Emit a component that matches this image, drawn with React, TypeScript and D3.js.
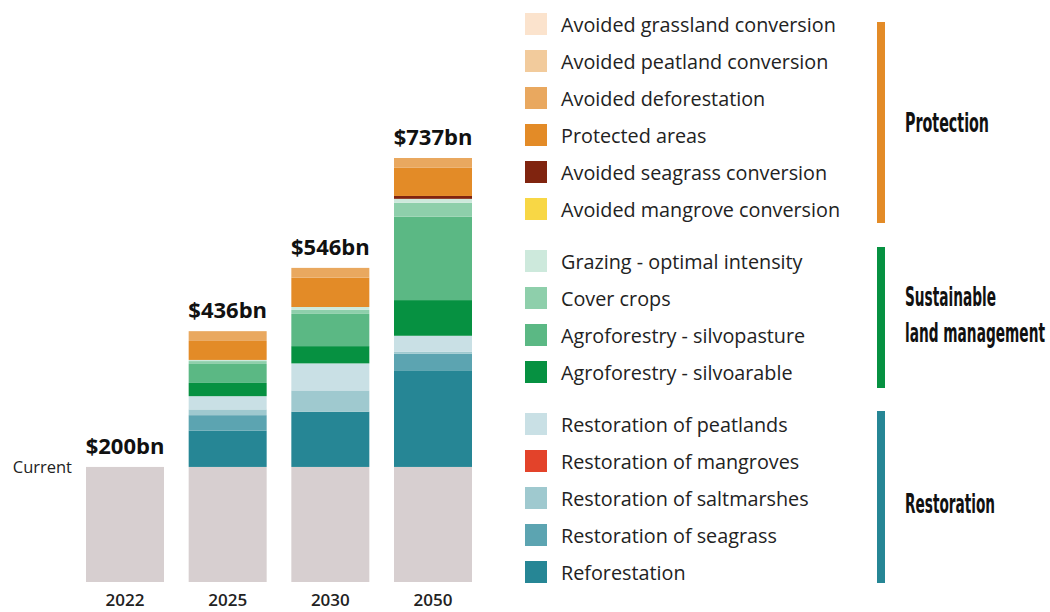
import React, { useLayoutEffect, useRef, useState } from "react";
import * as d3 from "d3";

const years = ["2022", "2025", "2030", "2050"];
const totals = [200, 436, 546, 737];

// stacking order, bottom to top
const current = [200, 200, 200, 200];
const reforestation = [0, 63, 96, 168];
const restSeagrass = [0, 27, 0, 29];
const restMangroves = [0, 0, 0, 0];
const restSaltmarshes = [0, 10, 37, 3];
const restPeatlands = [0, 23, 47, 28];
const silvoarable = [0, 23, 30, 62];
const silvopasture = [0, 33, 56, 145];
const coverCrops = [0, 5, 7, 24];
const grazing = [0, 2, 5, 7];
const avMangrove = [0, 0, 0, 0];
const avSeagrass = [0, 0, 0, 5];
const protectedAreas = [0, 33, 51, 49];
const avDeforestation = [0, 17, 17, 17];
const avPeatland = [0, 0, 0, 0];
const avGrassland = [0, 0, 0, 0];

const seriesKeys = [
  "Current",
  "Reforestation",
  "Restoration of seagrass",
  "Restoration of mangroves",
  "Restoration of saltmarshes",
  "Restoration of peatlands",
  "Agroforestry - silvoarable",
  "Agroforestry - silvopasture",
  "Cover crops",
  "Grazing - optimal intensity",
  "Avoided mangrove conversion",
  "Avoided seagrass conversion",
  "Protected areas",
  "Avoided deforestation",
  "Avoided peatland conversion",
  "Avoided grassland conversion",
];
const seriesValues = [
  current, reforestation, restSeagrass, restMangroves, restSaltmarshes, restPeatlands,
  silvoarable, silvopasture, coverCrops, grazing, avMangrove, avSeagrass,
  protectedAreas, avDeforestation, avPeatland, avGrassland,
];

const colors: Record<string, string> = {
  "Current": "#d7cfd0",
  "Reforestation": "#268695",
  "Restoration of seagrass": "#5ca4b1",
  "Restoration of mangroves": "#e3432a",
  "Restoration of saltmarshes": "#9fc9cf",
  "Restoration of peatlands": "#c9e0e5",
  "Agroforestry - silvoarable": "#069141",
  "Agroforestry - silvopasture": "#5bb884",
  "Cover crops": "#8ecfab",
  "Grazing - optimal intensity": "#cde9dc",
  "Avoided mangrove conversion": "#f8d745",
  "Avoided seagrass conversion": "#80240f",
  "Protected areas": "#e38b27",
  "Avoided deforestation": "#e9a85f",
  "Avoided peatland conversion": "#f2cb9c",
  "Avoided grassland conversion": "#fbe3cd",
};

const legendGroups = [
  {
    name: ["Protection"],
    color: "#e38b27",
    items: [
      "Avoided grassland conversion",
      "Avoided peatland conversion",
      "Avoided deforestation",
      "Protected areas",
      "Avoided seagrass conversion",
      "Avoided mangrove conversion",
    ],
  },
  {
    name: ["Sustainable", "land management"],
    color: "#069141",
    items: [
      "Grazing - optimal intensity",
      "Cover crops",
      "Agroforestry - silvopasture",
      "Agroforestry - silvoarable",
    ],
  },
  {
    name: ["Restoration"],
    color: "#268695",
    items: [
      "Restoration of peatlands",
      "Restoration of mangroves",
      "Restoration of saltmarshes",
      "Restoration of seagrass",
      "Reforestation",
    ],
  },
];

// layout
const groupBarSpans = [
  [22, 223],
  [247, 388],
  [411, 583],
];
const groupLabelBaselines = [[132], [306, 342], [513]];
const groupLabelWidths = [[84], [91, 140], [90]];

const FONT = "'Open Sans', Lato, sans-serif";
const COND = "'Liberation Sans Narrow', 'DejaVu Sans Condensed', sans-serif";

function CondText({ x, y, w, children }: { x: number; y: number; w: number; children: string }) {
  const ref = useRef<SVGTextElement>(null);
  const [k, setK] = useState(0.78);
  useLayoutEffect(() => {
    if (ref.current) {
      const len = ref.current.getComputedTextLength();
      if (len > 0) setK(w / len);
    }
  }, [w]);
  return (
    <g transform={`translate(${x},${y}) scale(${k},1)`}>
      <text ref={ref} x={0} y={0} fontFamily={COND} fontWeight={700} fontSize={26} fill="#111">
        {children}
      </text>
    </g>
  );
}

export default function App() {
  const width = 1050;
  const height = 612;

  const x = d3.scaleBand<string>().domain(years).range([86, 472]).paddingInner(0.2403).paddingOuter(0);
  const y = d3.scaleLinear().domain([0, 737]).range([582, 158]);

  const table = years.map((yr, i) => {
    const row: Record<string, any> = { year: yr };
    seriesKeys.forEach((k, j) => (row[k] = seriesValues[j][i]));
    return row;
  });
  const stack = d3.stack<Record<string, any>>().keys(seriesKeys);
  const layers = stack(table);

  const legendRows: { key: string; top: number }[] = [];
  let idx = 0;
  legendGroups.forEach((g, gi) => {
    g.items.forEach((k) => {
      legendRows.push({ key: k, top: 13 + idx * 37 + gi * 15 });
      idx++;
    });
  });

  return (
    <svg width={width} height={height} style={{ position: "absolute", left: 0, top: 0 }}>
      {layers.map((layer) => (
        <g key={layer.key} fill={colors[layer.key]}>
          {layer.map((d, i) =>
            d[1] - d[0] > 0 ? (
              <rect
                key={i}
                x={x(years[i])}
                width={x.bandwidth()}
                y={y(d[1])}
                height={y(d[0]) - y(d[1])}
              />
            ) : null
          )}
        </g>
      ))}
      {years.map((yr, i) => (
        <text
          key={"t" + yr}
          x={(x(yr) as number) + x.bandwidth() / 2}
          y={y(totals[i]) - 13}
          textAnchor="middle"
          fontFamily={FONT}
          fontWeight={700}
          fontSize={22}
          fill="#111"
        >
          {"$" + totals[i] + "bn"}
        </text>
      ))}
      {years.map((yr) => (
        <text
          key={"y" + yr}
          x={(x(yr) as number) + x.bandwidth() / 2}
          y={606}
          textAnchor="middle"
          fontFamily={FONT}
          fontWeight={600}
          fontSize={17}
          fill="#222"
        >
          {yr}
        </text>
      ))}
      <text x={72} y={473} textAnchor="end" fontFamily={FONT} fontSize={16.5} fill="#222">
        Current
      </text>

      {legendRows.map((r) => (
        <g key={r.key}>
          <rect x={525} y={r.top} width={22} height={22} fill={colors[r.key]} />
          <text x={561} y={r.top + 19} fontFamily={FONT} fontSize={19.8} fill="#222">
            {r.key}
          </text>
        </g>
      ))}

      {legendGroups.map((g, gi) => (
        <g key={"g" + gi}>
          <rect
            x={877}
            y={groupBarSpans[gi][0]}
            width={8}
            height={groupBarSpans[gi][1] - groupBarSpans[gi][0]}
            fill={g.color}
          />
          {g.name.map((line, li) => (
            <CondText key={li} x={905} y={groupLabelBaselines[gi][li]} w={groupLabelWidths[gi][li]}>
              {line}
            </CondText>
          ))}
        </g>
      ))}
    </svg>
  );
}
